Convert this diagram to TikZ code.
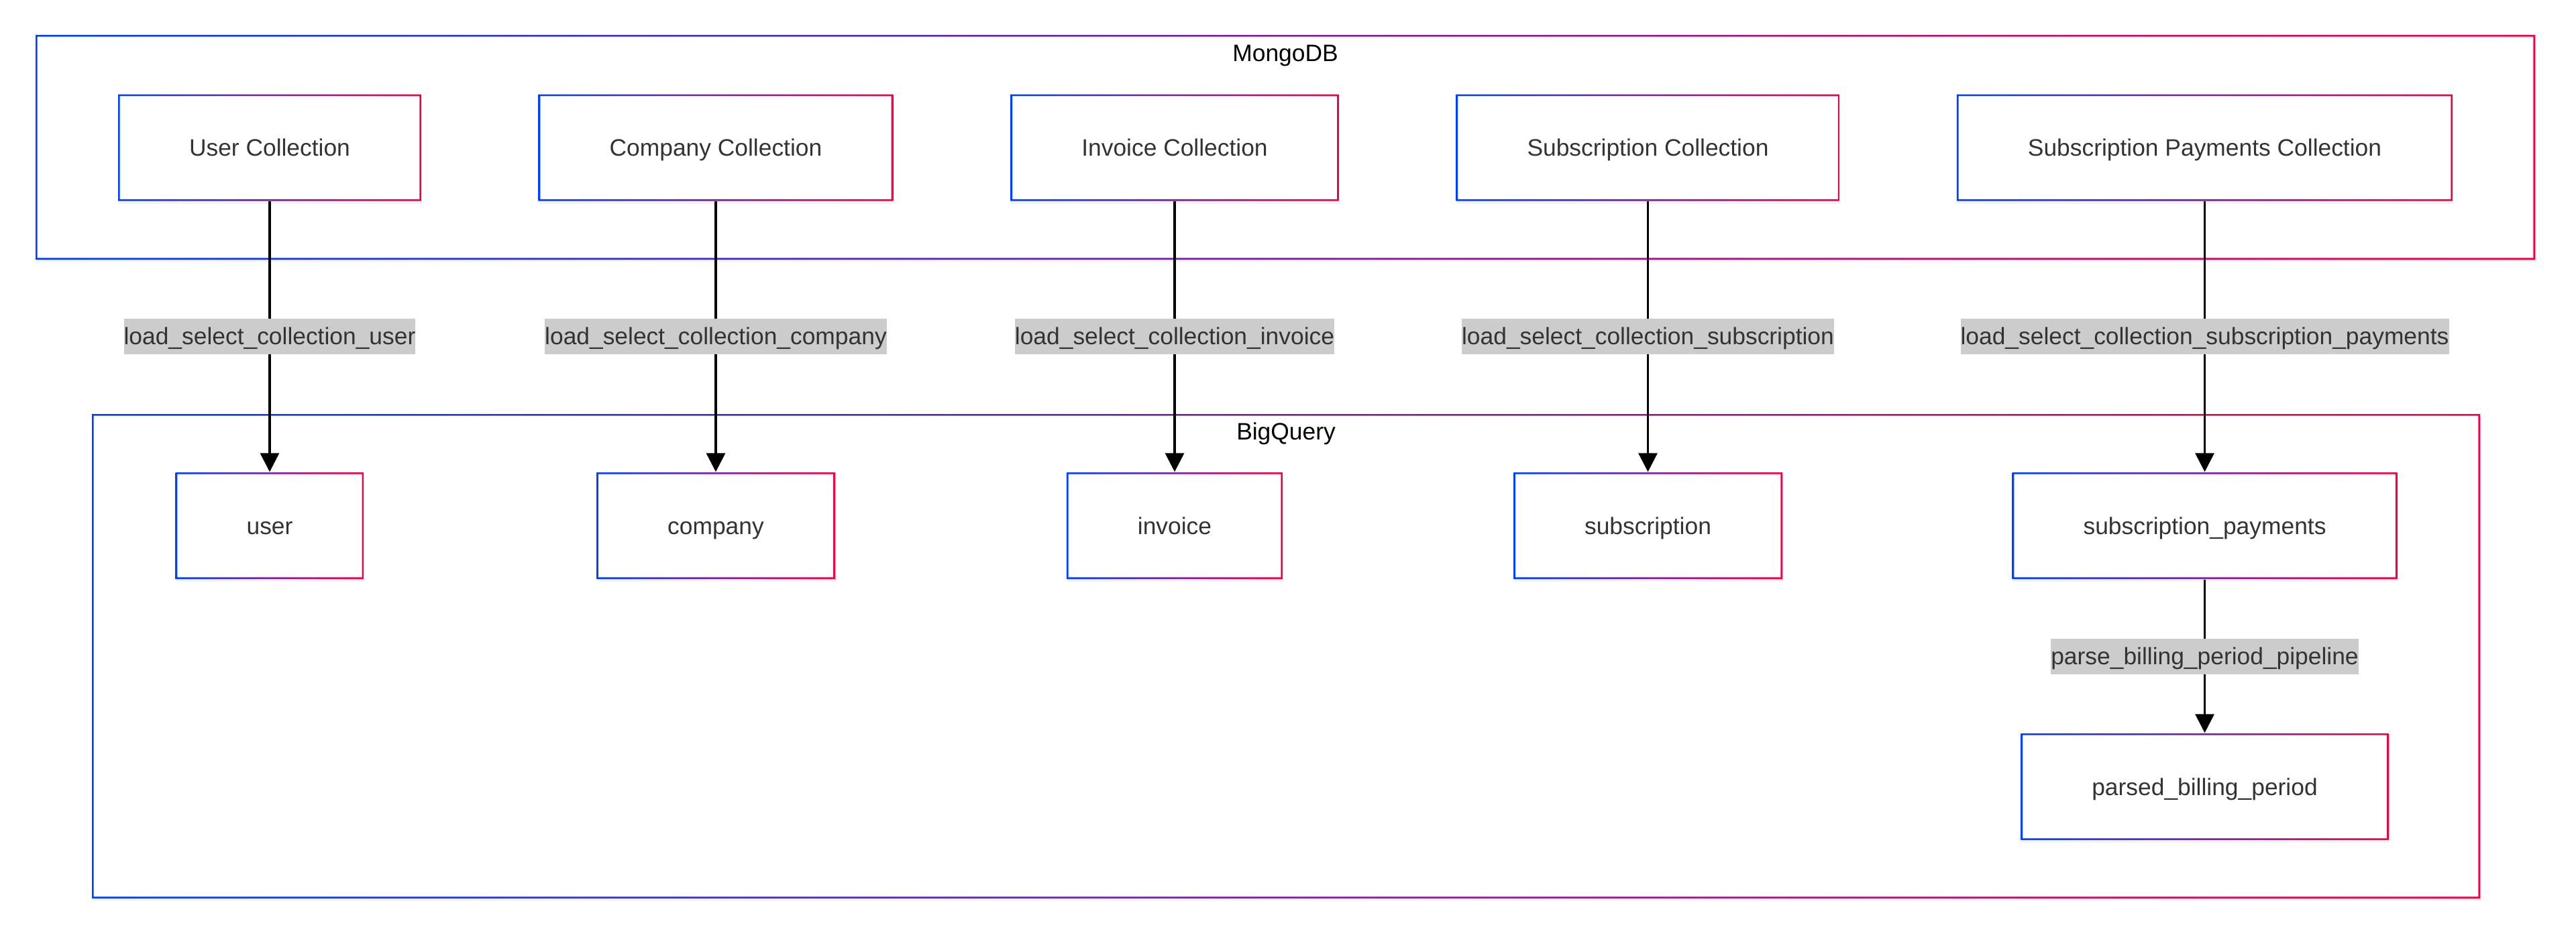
\documentclass[tikz,border=0pt]{standalone}
\usepackage{fontspec}
\setmainfont{Liberation Sans}
\usetikzlibrary{arrows.meta,shadows}

\definecolor{edgeblue}{RGB}{0,64,255}
\definecolor{edgered}{RGB}{245,0,70}
\definecolor{labelgray}{HTML}{CCCCCC}
\definecolor{textgray}{HTML}{333333}

\begin{document}
\begin{tikzpicture}[node distance=5.635cm]

% definitions
\tikzstyle{gradframe} = [path picture={\shade[left color=edgeblue, right color=edgered, even odd rule] (path picture bounding box.south west) rectangle (path picture bounding box.north east) ([shift={(0.027cm,0.027cm)}]path picture bounding box.south west) rectangle ([shift={(-0.027cm,-0.027cm)}]path picture bounding box.north east);}]

\tikzstyle{group} = [rectangle, inner sep=0pt, fill=white, gradframe, drop shadow={shadow xshift=0.015cm, shadow yshift=-0.04cm, opacity=0.07}]

\tikzstyle{collection} = [rectangle, minimum height=1.59cm, inner xsep=1.06cm, inner ysep=0pt, text height=0.25cm, text depth=0pt, fill=white, text=textgray, font=\fontsize{10.07}{12}\selectfont, gradframe, drop shadow={shadow xshift=0.015cm, shadow yshift=-0.04cm, opacity=0.09}]

\tikzstyle{title} = [anchor=base, inner sep=0pt, text=black, font=\fontsize{10.07}{12}\selectfont]

\tikzstyle{edgelabel} = [rectangle, fill=labelgray, text=textgray, inner sep=0pt, text height=0.385cm, text depth=0.145cm, font=\fontsize{10.07}{12}\selectfont]

\tikzstyle{arrow} = [-{Triangle[length=0.28cm, width=0.28cm]}, line width=0.032cm]

\useasboundingbox (0,0) rectangle (38.40,-13.97);


% MongoDB
\node (mongo) [group, minimum width=37.26cm, minimum height=3.35cm] at (19.16,-2.195) {};
\node (mongotitle) [title] at ([yshift=-0.40cm]mongo.north) {MongoDB};

\node (ucol) [collection] at (4.02,-2.20) {User Collection};
\node (ccol) [collection] at (10.67,-2.20) {Company Collection};
\node (icol) [collection] at (17.51,-2.20) {Invoice Collection};
\node (scol) [collection] at (24.565,-2.20) {Subscription Collection};
\node (spcol) [collection] at (32.865,-2.20) {Subscription Payments Collection};


% BigQuery
\node (bq) [group, minimum width=35.60cm, minimum height=7.22cm] at (19.17,-9.78) {};
\node (bqtitle) [title] at ([yshift=-0.39cm]bq.north) {BigQuery};

\node (user) [collection, below of=ucol] {user};
\node (company) [collection, below of=ccol] {company};
\node (invoice) [collection, below of=icol] {invoice};
\node (subscription) [collection, below of=scol] {subscription};
\node (payments) [collection, below of=spcol] {subscription\_payments};
\node (parsed) [collection, below of=payments, node distance=3.89cm] {parsed\_billing\_period};


% loads
\draw [arrow] (ucol) -- node [edgelabel] {load\_select\_collection\_user} (user);
\draw [arrow] (ccol) -- node [edgelabel] {load\_select\_collection\_company} (company);
\draw [arrow] (icol) -- node [edgelabel] {load\_select\_collection\_invoice} (invoice);
\draw [arrow] (scol) -- node [edgelabel] {load\_select\_collection\_subscription} (subscription);
\draw [arrow] (spcol) -- node [edgelabel] {load\_select\_collection\_subscription\_payments} (payments);

\draw [arrow] (payments) -- node [edgelabel] {parse\_billing\_period\_pipeline} (parsed);

\end{tikzpicture}
\end{document}
